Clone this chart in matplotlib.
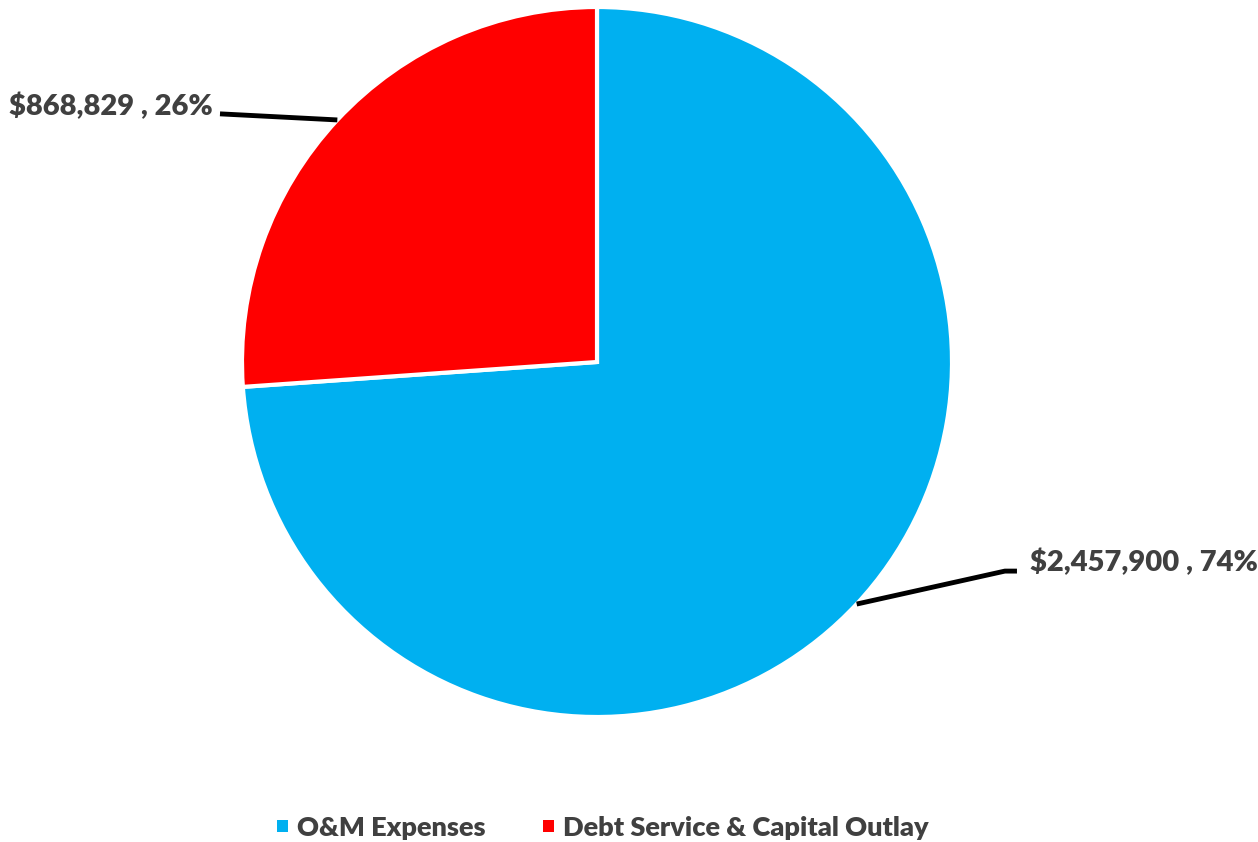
import matplotlib.pyplot as plt
import numpy as np
from matplotlib.patches import Patch

categories = ["O&M Expenses", "Debt Service & Capital Outlay"]
amounts = [2457900, 868829]
colors = ["#00B0F0", "#FF0000"]
text_color = "#404040"

plt.rcParams["font.family"] = ["Lato", "DejaVu Sans"]

W, H = 1258, 842
fig = plt.figure(figsize=(W / 100, H / 100), dpi=100)

# pie centre and radius in pixels
cx, cy, r = 597, 362, 355
ax = fig.add_axes([(cx - r) / W, (H - cy - r) / H, 2 * r / W, 2 * r / H])
wedges, _ = ax.pie(amounts, colors=colors, startangle=90, counterclock=False,
                   radius=1, wedgeprops=dict(edgecolor="white", linewidth=3))
ax.set_xlim(-1, 1)
ax.set_ylim(-1, 1)
ax.set_aspect("equal")
ax.axis("off")

total = sum(amounts)
labels = [f"${v:,.0f} , {v / total:.0%}" for v in amounts]

# leader line elbows and text anchors, in pie-radius units
elbows = [((1.149, -0.589), (1.183, -0.589)), ((-1.062, 0.699), (-1.062, 0.699))]
text_pos = [((1.22, -0.566), "left"), ((-1.082, 0.721), "right")]

for w, lab, (e1, e2), (tp, ha) in zip(wedges, labels, elbows, text_pos):
    mid = np.deg2rad((w.theta1 + w.theta2) / 2)
    x0, y0 = np.cos(mid), np.sin(mid)
    ax.plot([x0, e1[0], e2[0]], [y0, e1[1], e2[1]], color="black", lw=3.5,
            solid_capstyle="butt", clip_on=False)
    ax.text(tp[0], tp[1], lab, ha=ha, va="center", fontsize=21,
            fontweight="heavy", color=text_color, clip_on=False)

handles = [Patch(facecolor=c, edgecolor="none") for c in colors]
fig.legend(handles, categories, loc="center", bbox_to_anchor=(603 / W, 1 - 828 / H),
           ncol=2, frameon=False, handlelength=0.4, handleheight=0.3,
           handletextpad=0.35, columnspacing=2.1,
           prop=dict(size=19.5, weight="heavy"), labelcolor=text_color)

fig.savefig("out.png", dpi=100)
